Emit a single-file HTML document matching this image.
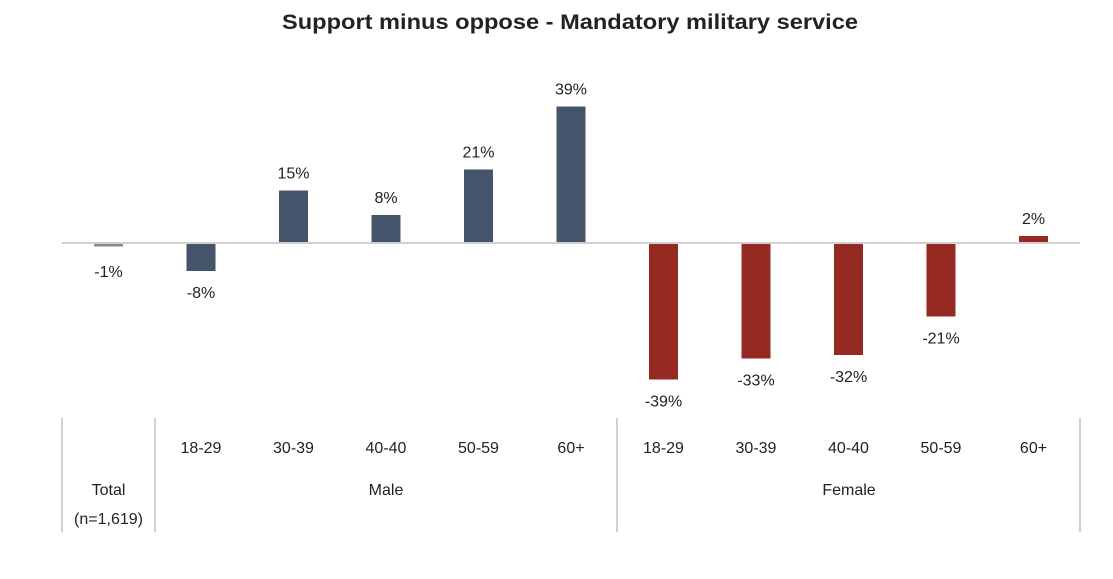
<!DOCTYPE html>
<html><head><meta charset="utf-8"><style>
body{margin:0;background:#fff;}
svg text{font-family:"Liberation Sans",sans-serif;fill:#222;}
</style></head><body>
<svg width="1113" height="574">
<text x="570" y="29" text-anchor="middle" font-size="21" font-weight="bold" textLength="576" lengthAdjust="spacingAndGlyphs">Support minus oppose - Mandatory military service</text>
<g id="bars"></g>
<line x1="62" y1="243" x2="1080" y2="243" stroke="#d0d0d0" stroke-width="2"/>
<g id="axis"></g>
</svg>
<script>
const categories=["Total","18-29","30-39","40-40","50-59","60+","18-29","30-39","40-40","50-59","60+"];
const groups=["total","male","male","male","male","male","female","female","female","female","female"];
const values=[-1,-8,15,8,21,39,-39,-33,-32,-21,2];
const colors={total:"#8c8c8c",male:"#44546a",female:"#952a23"};
const ns="http://www.w3.org/2000/svg";
const zeroY=243,scale=3.5,x0=108.5,step=92.5,bw=29;
const xc=i=>x0+i*step;
const y=v=>zeroY-v*scale;
const bars=document.getElementById('bars'),axis=document.getElementById('axis');
function mk(tag,attrs,parent){const e=document.createElementNS(ns,tag);for(const k in attrs)e.setAttribute(k,attrs[k]);parent.appendChild(e);return e;}
values.forEach((v,i)=>{
  const top=Math.min(y(v),zeroY),h=Math.max(Math.abs(y(v)-zeroY),2);
  const r=mk('rect',{x:xc(i)-bw/2,y:top,width:bw,height:h,fill:colors[groups[i]]},bars);
  
  
  const ly=v>=0?y(v)-12:y(v)+24+(i===0?0:3);
  const t=mk('text',{x:xc(i),y:v>=0?ly:Math.max(ly,zeroY+34),'text-anchor':'middle','font-size':'16'},bars);
  t.textContent=v+'%';
  
  
  if(i>0){const c=mk('text',{x:xc(i),y:453,'text-anchor':'middle','font-size':'16'},axis);c.textContent=categories[i];
  
  }
});
[62,155,617,1080].forEach(x=>{const l=mk('line',{x1:x,y1:418,x2:x,y2:532,stroke:'#d0d0d0','stroke-width':2},axis);

});
const gl=[["Total",108.5,495],["(n=1,619)",108.5,524],["Male",386,495],["Female",849,495]];
gl.forEach(g=>{const t=mk('text',{x:g[1],y:g[2],'text-anchor':'middle','font-size':'16'},axis);t.textContent=g[0];

});
</script>
</body></html>
